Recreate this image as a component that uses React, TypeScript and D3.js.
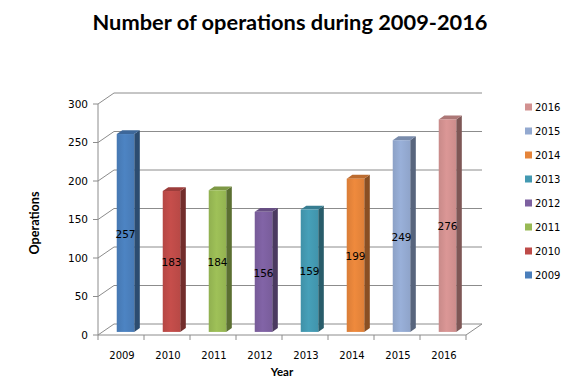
import React from "react";
import * as d3 from "d3";

const years = ["2009", "2010", "2011", "2012", "2013", "2014", "2015", "2016"];
const operations = [257, 183, 184, 156, 159, 199, 249, 276];
const colors = ["#4a7ebb", "#be4b48", "#98b954", "#7d60a0", "#4399b1", "#e5843a", "#93a9d0", "#d29190"];
const yTicks = [0, 50, 100, 150, 200, 250, 300];
const title = "Number of operations during 2009-2016";

const W = 576;
const H = 384;
const DX = 16;
const DY = -11;
const FRONT = 0.28;
const BACK = 0.63;

export default function App() {
  const x = d3.scaleBand<string>().domain(years).range([98, 466]).paddingInner(0).paddingOuter(0);
  const y = d3.scaleLinear().domain([0, 300]).range([335, 104]);
  const bw = x.bandwidth();
  const barW = bw * 0.38;
  const grid = "#8c8c8c";
  const font = "'DejaVu Sans', Verdana, sans-serif";

  const darker = (c: string, k: number) => {
    const col = d3.rgb(c);
    return d3.rgb(col.r * k, col.g * k, col.b * k).toString();
  };

  return (
    <svg width={W} height={H} style={{ position: "absolute", left: 0, top: 0, background: "#fff" }}>
      <defs>
        {colors.map((c, i) => (
          <linearGradient key={i} id={`g${i}`} x1="0" x2="1" y1="0" y2="0">
            <stop offset="0" stopColor={darker(c, 0.95)} />
            <stop offset="0.45" stopColor={d3.rgb(c).brighter(0.12).toString()} />
            <stop offset="1" stopColor={darker(c, 0.97)} />
          </linearGradient>
        ))}
      </defs>
      <text
        x={290}
        y={30}
        textAnchor="middle"
        fontFamily="Lato, 'Open Sans', sans-serif"
        fontWeight="bold"
        fontSize={20}
        textLength={395}
        lengthAdjust="spacingAndGlyphs"
        fill="#000"
      >
        {title}
      </text>

      {/* gridlines: left wall diagonals and back wall horizontals */}
      {yTicks.map((t) => (
        <g key={t}>
          <line x1={98} y1={y(t)} x2={98 + DX} y2={y(t) + DY} stroke={grid} strokeWidth={1} />
          <line x1={98 + DX} y1={y(t) + DY} x2={466 + DX} y2={y(t) + DY} stroke={grid} strokeWidth={1} />
          <line x1={93} y1={y(t)} x2={98} y2={y(t)} stroke={grid} strokeWidth={1} />
          <text x={88} y={y(t)} dy="0.35em" textAnchor="end" fontFamily={font} fontSize={10.5} fill="#000">
            {t}
          </text>
        </g>
      ))}
      {/* floor */}
      <line x1={98} y1={y(0)} x2={466} y2={y(0)} stroke={grid} strokeWidth={1} />
      <line x1={466} y1={y(0)} x2={466 + DX} y2={y(0) + DY} stroke={grid} strokeWidth={1} />
      {/* y axis */}
      <line x1={98} y1={y(300)} x2={98} y2={y(0)} stroke={grid} strokeWidth={1} />
      {/* x ticks */}
      {[...years.map((yr) => x(yr) as number), 466].map((px, i) => (
        <line key={i} x1={px} y1={y(0)} x2={px} y2={y(0) + 5} stroke={grid} strokeWidth={1} />
      ))}
      {years.map((yr) => (
        <text
          key={yr}
          x={(x(yr) as number) + bw / 2 + 1}
          y={358.5}
          textAnchor="middle"
          fontFamily={font}
          fontSize={10}
          fill="#000"
        >
          {yr}
        </text>
      ))}

      {/* bars */}
      {years.map((yr, i) => {
        const v = operations[i];
        const x0 = (x(yr) as number) + (bw - barW) / 2 + FRONT * DX;
        const x1 = x0 + barW;
        const yb = y(0) + FRONT * DY;
        const yt = y(v) + FRONT * DY;
        const ddx = (BACK - FRONT) * DX;
        const ddy = (BACK - FRONT) * DY;
        const c = colors[i];
        return (
          <g key={yr}>
            <polygon
              points={`${x1},${yt} ${x1 + ddx},${yt + ddy} ${x1 + ddx},${yb + ddy} ${x1},${yb}`}
              fill={darker(c, 0.6)}
            />
            <polygon
              points={`${x0},${yt} ${x0 + ddx},${yt + ddy} ${x1 + ddx},${yt + ddy} ${x1},${yt}`}
              fill={darker(c, 0.82)}
            />
            <rect x={x0} y={yt} width={barW} height={yb - yt} fill={`url(#g${i})`} />
            <text
              x={(x0 + x1) / 2}
              y={(yt + yb) / 2 + 1}
              dy="0.35em"
              textAnchor="middle"
              fontFamily={font}
              fontSize={10.5}
              fill="#000"
            >
              {v}
            </text>
          </g>
        );
      })}

      {/* axis titles */}
      <text
        transform={`translate(39,223) rotate(-90)`}
        textAnchor="middle"
        fontFamily="Lato, 'Open Sans', sans-serif"
        fontWeight="bold"
        fontSize={13}
        textLength={63}
        lengthAdjust="spacingAndGlyphs"
        fill="#000"
      >
        Operations
      </text>
      <text
        x={282}
        y={376}
        textAnchor="middle"
        fontFamily="Lato, 'Open Sans', sans-serif"
        fontWeight="bold"
        fontSize={11.5}
        fill="#000"
      >
        Year
      </text>

      {/* legend */}
      {years
        .slice()
        .reverse()
        .map((yr, j) => {
          const i = years.indexOf(yr);
          const cy = 107 + j * 24;
          return (
            <g key={yr}>
              <rect x={525} y={cy - 3.5} width={7} height={7} fill={colors[i]} />
              <text x={535} y={cy} dy="0.35em" fontFamily={font} fontSize={10} fill="#000">
                {yr}
              </text>
            </g>
          );
        })}
    </svg>
  );
}
